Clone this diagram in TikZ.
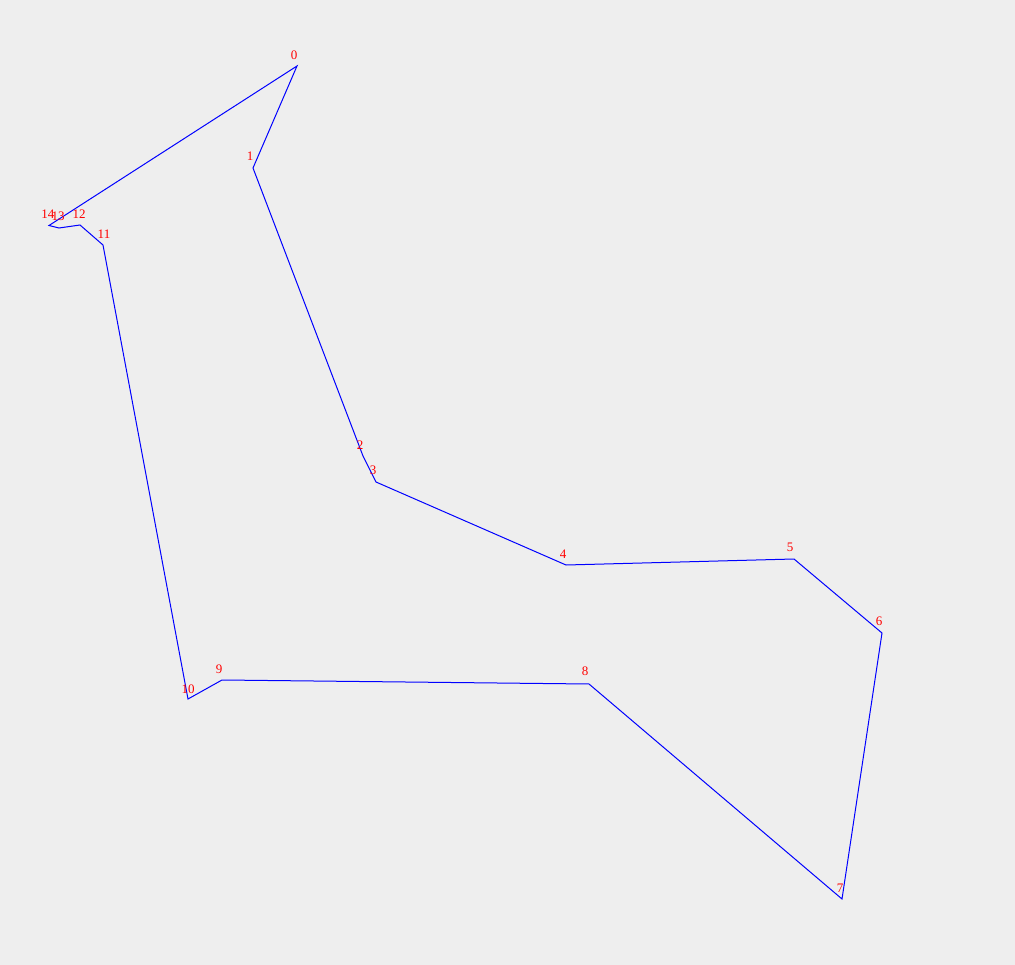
\documentclass[tikz,border=0pt]{standalone}
\usepackage{fontspec}
\setmainfont{Liberation Serif}
\definecolor{bg}{RGB}{238,238,238}
\definecolor{edgeblue}{RGB}{0,0,255}
\definecolor{lblred}{RGB}{255,0,0}
\begin{document}
\begin{tikzpicture}[x=1pt,y=-1pt,
  edge/.style={draw=edgeblue,line width=1pt,line join=miter},
  lbl/.style={text=lblred,font=\fontsize{13}{13}\selectfont,inner sep=0pt,anchor=center}]
\fill[bg] (0,0) rectangle (1015,965);
\useasboundingbox (0,0) rectangle (1015,965);
\coordinate (p0) at (297,66);
\coordinate (p1) at (253,168);
\coordinate (p2) at (363,456);
\coordinate (p3) at (376,482);
\coordinate (p4) at (566,565);
\coordinate (p5) at (794,559);
\coordinate (p6) at (882,633);
\coordinate (p7) at (842,899);
\coordinate (p8) at (589,684);
\coordinate (p9) at (222,680);
\coordinate (p10) at (188,699);
\coordinate (p11) at (103,245);
\coordinate (p12) at (80,225);
\coordinate (p13) at (59,228);
\coordinate (p14) at (49,225.5);
\draw[edge] (p0) -- (p1) -- (p2) -- (p3) -- (p4) -- (p5) -- (p6) -- (p7) -- (p8) -- (p9) -- (p10) -- (p11) -- (p12) -- (p13) -- (p14) -- cycle;
\node[lbl] (l0) at (294,55) {0};
\node[lbl] (l1) at (250,156) {1};
\node[lbl] (l2) at (360,445) {2};
\node[lbl] (l3) at (373,470) {3};
\node[lbl] (l4) at (563,554) {4};
\node[lbl] (l5) at (790,547) {5};
\node[lbl] (l6) at (879,621) {6};
\node[lbl] (l7) at (840,888) {7};
\node[lbl] (l8) at (585,671) {8};
\node[lbl] (l9) at (219,669) {9};
\node[lbl] (l10) at (188,689) {10};
\node[lbl] (l11) at (104,234) {11};
\node[lbl] (l12) at (79,214) {12};
\node[lbl] (l13) at (58,216) {13};
\node[lbl] (l14) at (48,214) {14};
\end{tikzpicture}
\end{document}
